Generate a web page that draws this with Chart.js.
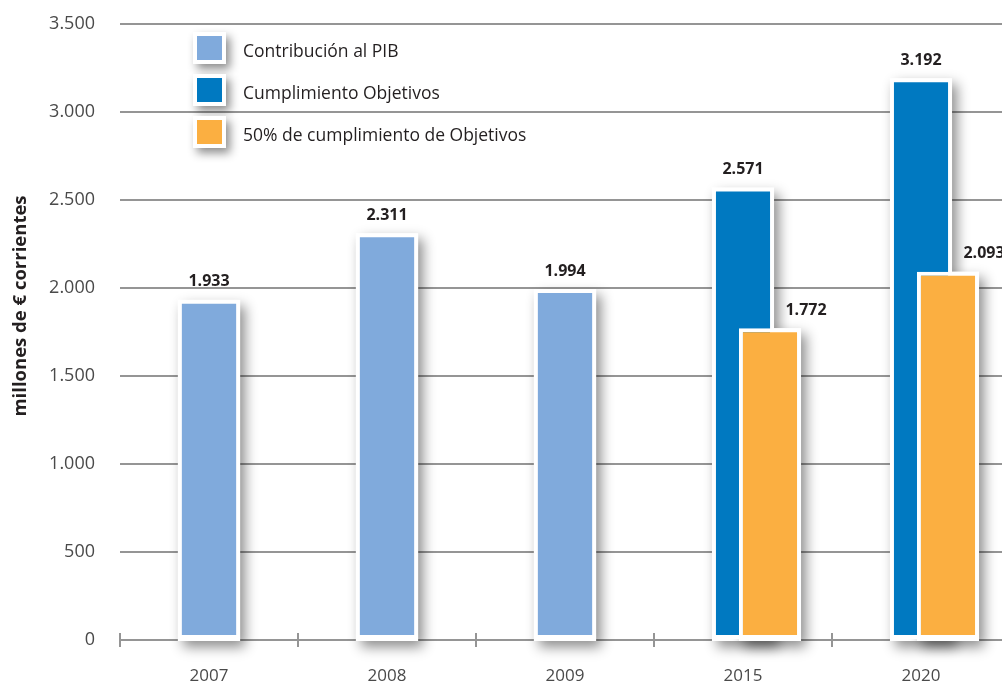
<!DOCTYPE html>
<html lang="es">
<head>
    <meta charset="UTF-8">
    <title>Contribución al PIB</title>
    <script src="https://cdn.jsdelivr.net/npm/chart.js"></script>
    <style>
        html, body {
            margin: 0;
            padding: 0;
            background: #ffffff;
            overflow: hidden;
        }
        #chartContainer {
            position: absolute;
            left: 0;
            top: 0;
            width: 1040px;
            height: 685px;
        }
    </style>
</head>
<body>
    <div id="chartContainer">
        <canvas id="pibChart"></canvas>
    </div>
    <script>
        // datos
        const anios = ['2007', '2008', '2009', '2015', '2020'];
        const contribucionPIB = [1933, 2311, 1994, null, null];
        const cumplimientoObjetivos = [null, null, null, 2571, 3192];
        const mitadObjetivos = [null, null, null, 1772, 2093];
        const yTicks = [0, 500, 1000, 1500, 2000, 2500, 3000, 3500];
        const tituloEjeY = 'millones de € corrientes';

        const gris = '#959595';
        const fuente = "'Open Sans', sans-serif";

        function miles(v) {
            return String(v).replace(/\B(?=(\d{3})+(?!\d))/g, '.');
        }

        // sombras, marcas del eje x, leyenda, etiquetas
        const extras = {
            id: 'extras',
            beforeDatasetsDraw(chart) {
                const ctx = chart.ctx;
                const xs = chart.scales.x;
                const area = chart.chartArea;
                // marcas entre categorias
                const half = (xs.getPixelForValue(1) - xs.getPixelForValue(0)) / 2;
                ctx.save();
                ctx.strokeStyle = gris;
                ctx.lineWidth = 2;
                for (let i = 0; i <= anios.length; i++) {
                    const x = Math.round(xs.getPixelForValue(0) - half + i * 2 * half);
                    ctx.beginPath();
                    ctx.moveTo(x, area.bottom - 7);
                    ctx.lineTo(x, area.bottom + 7);
                    ctx.stroke();
                }
                ctx.restore();
                // sombras de las barras
                ctx.save();
                ctx.shadowColor = 'rgba(0,0,0,0.45)';
                ctx.shadowBlur = 12;
                ctx.shadowOffsetX = 5;
                ctx.shadowOffsetY = 6;
                ctx.fillStyle = '#ffffff';
                chart.data.datasets.forEach((ds, di) => {
                    const meta = chart.getDatasetMeta(di);
                    meta.data.forEach((bar, i) => {
                        if (ds.data[i] == null) return;
                        const p = bar.getProps(['x', 'y', 'base', 'width'], true);
                        ctx.fillRect(p.x - p.width / 2, p.y, p.width, p.base - p.y + 2);
                    });
                });
                ctx.restore();
                // leyenda
                ctx.save();
                chart.data.datasets.forEach((ds, di) => {
                    const y = 32 + di * 42;
                    ctx.save();
                    ctx.shadowColor = 'rgba(0,0,0,0.45)';
                    ctx.shadowBlur = 10;
                    ctx.shadowOffsetX = 4;
                    ctx.shadowOffsetY = 5;
                    ctx.fillStyle = '#ffffff';
                    ctx.fillRect(193, y, 33, 32);
                    ctx.restore();
                    ctx.fillStyle = ds.backgroundColor;
                    ctx.fillRect(197, y + 4, 25, 24);
                    ctx.fillStyle = '#231f20';
                    ctx.font = '17.5px ' + fuente;
                    ctx.textAlign = 'left';
                    ctx.textBaseline = 'middle';
                    ctx.fillText(ds.label, 243, y + 20);
                });
                ctx.restore();
                // titulo del eje y
                ctx.save();
                ctx.translate(21, 306);
                ctx.rotate(-Math.PI / 2);
                ctx.fillStyle = '#231f20';
                ctx.font = 'bold 18.5px ' + fuente;
                ctx.textAlign = 'center';
                ctx.textBaseline = 'middle';
                ctx.fillText(tituloEjeY, 0, 0);
                ctx.restore();
            },
            beforeDatasetDraw(chart, args) {
                // la serie naranja se dibuja encima, al final
                if (args.index === 2 && !chart.$naranja) return false;
            },
            afterDatasetsDraw(chart) {
                chart.$naranja = true;
                chart.getDatasetMeta(2).controller.draw();
                chart.$naranja = false;
                const ctx = chart.ctx;
                ctx.save();
                ctx.fillStyle = '#231f20';
                ctx.font = 'bold 16px ' + fuente;
                ctx.textAlign = 'center';
                ctx.textBaseline = 'middle';
                chart.data.datasets.forEach((ds, di) => {
                    const meta = chart.getDatasetMeta(di);
                    meta.data.forEach((bar, i) => {
                        if (ds.data[i] == null) return;
                        const dx = di === 2 ? 36 : 0;
                        ctx.fillText(miles(ds.data[i]), bar.x + dx, bar.y - 18);
                    });
                });
                ctx.restore();
            }
        };

        const ctx = document.getElementById('pibChart').getContext('2d');
        const pibChart = new Chart(ctx, {
            type: 'bar',
            data: {
                labels: anios,
                datasets: [{
                    label: 'Contribución al PIB',
                    data: contribucionPIB,
                    backgroundColor: '#80aadc',
                    borderColor: '#ffffff',
                    borderWidth: 4,
                    borderSkipped: false,
                    skipNull: true,
                    categoryPercentage: 1,
                    barPercentage: 0.35
                }, {
                    label: 'Cumplimiento Objetivos',
                    data: cumplimientoObjetivos,
                    backgroundColor: '#0079c1',
                    borderColor: '#ffffff',
                    borderWidth: 4,
                    borderSkipped: false,
                    categoryPercentage: 0.455,
                    barPercentage: 2.3
                }, {
                    label: '50% de cumplimiento de Objetivos',
                    data: mitadObjetivos,
                    backgroundColor: '#fbaf41',
                    borderColor: '#ffffff',
                    borderWidth: 4,
                    borderSkipped: false,
                    categoryPercentage: 0.455,
                    barPercentage: 2.3
                }]
            },
            options: {
                responsive: true,
                maintainAspectRatio: false,
                animation: false,
                layout: {
                    padding: { top: 24, right: 30, left: 0, bottom: 0 }
                },
                plugins: {
                    legend: { display: false },
                    tooltip: { enabled: false }
                },
                scales: {
                    x: {
                        offset: true,
                        grid: { display: false },
                        border: { display: false },
                        ticks: {
                            color: '#4a4a4a',
                            font: { family: fuente, size: 17 },
                            padding: 18
                        },
                        afterFit(scale) { scale.height = 45; }
                    },
                    y: {
                        min: 0,
                        max: 3500,
                        afterBuildTicks(scale) {
                            scale.ticks = yTicks.map(v => ({ value: v }));
                        },
                        grid: {
                            color: gris,
                            lineWidth: 2,
                            drawTicks: false
                        },
                        border: { display: false },
                        ticks: {
                            color: '#4a4a4a',
                            font: { family: fuente, size: 18 },
                            padding: 25,
                            callback: v => miles(v)
                        },
                        afterFit(scale) {
                            scale.width = 120;
                            scale.paddingTop = 0;
                            scale.paddingBottom = 0;
                        }
                    }
                }
            },
            plugins: [extras]
        });
    </script>
</body>
</html>
